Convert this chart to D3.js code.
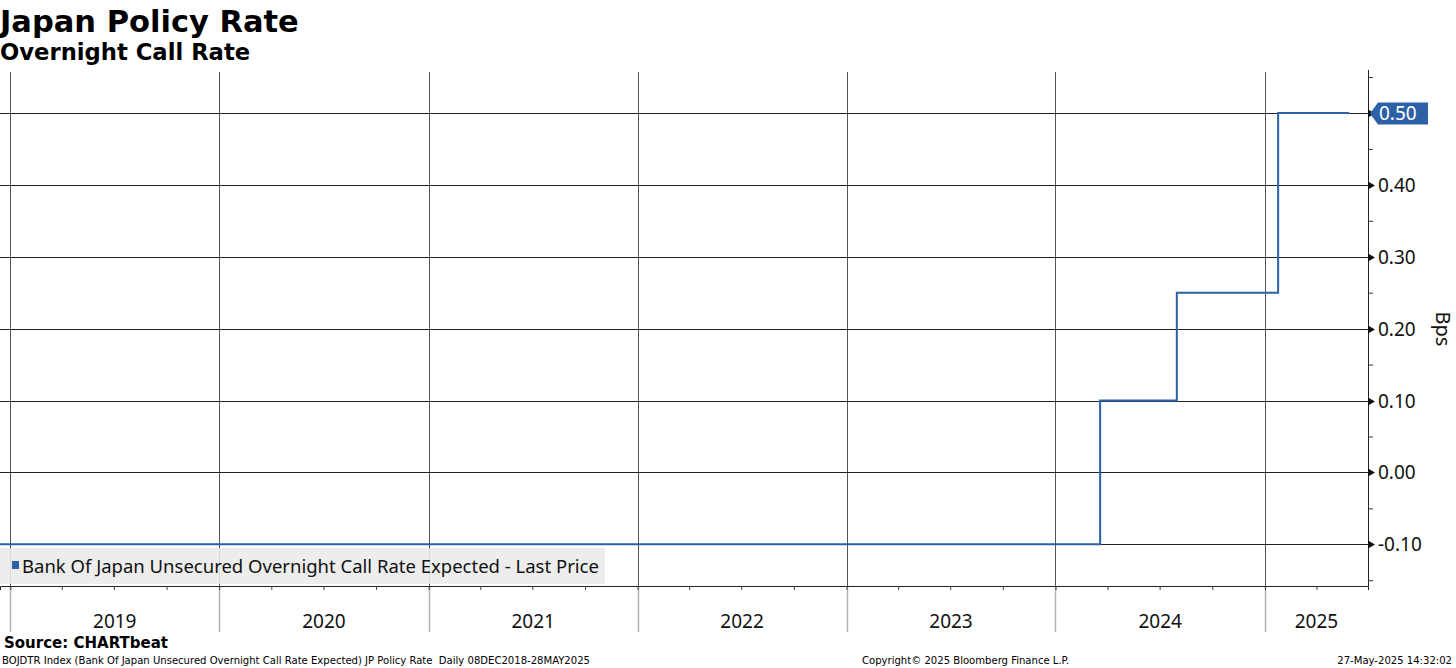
<!DOCTYPE html>
<html>
<head>
<meta charset="utf-8">
<script src="https://cdn.jsdelivr.net/npm/d3@7"></script>
<style>
  body { margin: 0; background: #fff; }
  text { font-family: "Noto Sans", sans-serif; }
</style>
</head>
<body>
<script>
// step changes of the expected overnight call rate
var stepDates  = ["2018-12-08", "2024-03-19", "2024-07-31", "2025-01-24", "2025-05-28"];
var stepValues = [-0.10, 0.10, 0.25, 0.50, 0.50];

var yMajor = [-0.10, 0.00, 0.10, 0.20, 0.30, 0.40, 0.50];
var yMinor = [-0.15, -0.05, 0.05, 0.15, 0.25, 0.35, 0.45, 0.55];
var years  = ["2019", "2020", "2021", "2022", "2023", "2024", "2025"];
var lastLabel = "0.50";

var W = 1456, H = 668;
var plot = {left: 0, right: 1368, top: 72, bottom: 586};
var blue = "#2c62a5";

var parse = d3.timeParse("%Y-%m-%d");
var data = stepDates.map(function(d, i) { return {date: parse(d), value: stepValues[i]}; });

var svg = d3.select("body").append("svg").attr("width", W).attr("height", H);

var x = d3.scaleTime()
    .domain([parse("2018-12-14"), parse("2025-06-30")])
    .range([plot.left, plot.right]);

var y = d3.scaleLinear()
    .domain([-0.158, 0.557])
    .range([plot.bottom, plot.top]);

// title block
svg.append("text").attr("x", 0).attr("y", 32)
    .style("font-family", "DejaVu Sans").style("font-weight", "bold").style("font-size", "30.5px")
    .text("Japan Policy Rate");
svg.append("text").attr("x", 0).attr("y", 60)
    .style("font-family", "DejaVu Sans").style("font-weight", "bold").style("font-size", "22.7px")
    .text("Overnight Call Rate");

// year boundaries
var yearStarts = years.map(function(yr) { return parse(yr + "-01-01"); });
svg.append("g").selectAll("line.below").data(yearStarts).enter().append("line")
    .attr("x1", function(d) { return Math.round(x(d)) + 0.5; })
    .attr("x2", function(d) { return Math.round(x(d)) + 0.5; })
    .attr("y1", plot.bottom).attr("y2", 632)
    .attr("stroke", "#b0b0b0").attr("stroke-width", 1.5);
svg.append("g").selectAll("line.grid").data(yearStarts).enter().append("line")
    .attr("x1", function(d) { return Math.round(x(d)) + 0.5; })
    .attr("x2", function(d) { return Math.round(x(d)) + 0.5; })
    .attr("y1", plot.top).attr("y2", plot.bottom)
    .attr("stroke", "#555").attr("stroke-width", 1);

// horizontal grid
svg.append("g").selectAll("line").data(yMajor).enter().append("line")
    .attr("x1", plot.left).attr("x2", plot.right)
    .attr("y1", function(d) { return Math.round(y(d)) + 0.5; })
    .attr("y2", function(d) { return Math.round(y(d)) + 0.5; })
    .attr("stroke", "#222").attr("stroke-width", 1);

// series
svg.append("clipPath").attr("id", "clip").append("rect")
    .attr("x", plot.left).attr("y", plot.top)
    .attr("width", plot.right - plot.left).attr("height", plot.bottom - plot.top);

var line = d3.line()
    .x(function(d) { return x(d.date); })
    .y(function(d) { return y(d.value); })
    .curve(d3.curveStepAfter);

svg.append("path").datum(data)
    .attr("clip-path", "url(#clip)")
    .attr("d", line)
    .attr("fill", "none")
    .attr("stroke", blue)
    .attr("stroke-width", 2);

// legend
var lg = svg.append("g");
lg.append("rect").attr("x", 0).attr("y", 548).attr("width", 605).attr("height", 36)
    .attr("fill", "#ebebeb").attr("opacity", 0.88);
lg.append("rect").attr("x", 12).attr("y", 561).attr("width", 7).attr("height", 8).attr("fill", blue);
lg.append("text").attr("x", 22).attr("y", 573)
    .style("font-size", "18.5px").attr("fill", "#111")
    .text("Bank Of Japan Unsecured Overnight Call Rate Expected - Last Price");

// x axis
var quarters = d3.timeMonth.every(3).range(x.domain()[0], x.domain()[1]);
var xAxis = svg.append("g").attr("transform", "translate(0," + plot.bottom + ")")
    .call(d3.axisBottom(x).tickValues(quarters).tickSize(4).tickFormat(""));
xAxis.select(".domain").attr("stroke", "#222");
xAxis.selectAll(".tick line").attr("stroke", "#444");

var yearMid = years.map(function(yr) {
  var a = Math.max(x(parse(yr + "-01-01")), plot.left);
  var b = Math.min(x(parse((+yr + 1) + "-01-01")), plot.right);
  return {label: yr, cx: (a + b) / 2};
});
svg.append("g").selectAll("text").data(yearMid).enter().append("text")
    .attr("x", function(d) { return d.cx; }).attr("y", 628)
    .attr("text-anchor", "middle").style("font-size", "19px").attr("fill", "#111")
    .text(function(d) { return d.label; });

// y axis on the right
var yAxis = svg.append("g").attr("transform", "translate(" + plot.right + ",0)")
    .call(d3.axisRight(y).tickValues(yMinor).tickSize(5).tickFormat(""));
yAxis.select(".domain").attr("d", "M0.5," + (plot.top - 2) + "V" + plot.bottom).attr("stroke", "#222");
yAxis.selectAll(".tick line").attr("stroke", "#333");

var yLab = svg.append("g").selectAll("g").data(yMajor).enter().append("g")
    .attr("transform", function(d) { return "translate(" + plot.right + "," + (Math.round(y(d)) + 0.5) + ")"; });
yLab.append("path").attr("d", "M0,-4L7,0L0,4Z").attr("fill", "#111");
yLab.filter(function(d) { return d.toFixed(2) !== lastLabel; }).append("text")
    .attr("x", 10).attr("dy", "0.35em").style("font-size", "19px").attr("fill", "#111")
    .text(function(d) { return d.toFixed(2); });

svg.append("text")
    .attr("transform", "translate(1436," + ((plot.top + plot.bottom) / 2) + ") rotate(90)")
    .attr("text-anchor", "middle").style("font-size", "20px").attr("fill", "#111")
    .text("Bps");

// last value flag
var last = data[data.length - 1];
var ly = Math.round(y(last.value)) + 0.5;
svg.append("path")
    .attr("d", "M" + (plot.right + 2) + "," + ly + "L" + (plot.right + 10) + "," + (ly - 11) +
               "H" + (plot.right + 60) + "V" + (ly + 11) + "H" + (plot.right + 10) + "Z")
    .attr("fill", blue);
svg.append("text").attr("x", plot.right + 11).attr("y", ly).attr("dy", "0.36em")
    .style("font-size", "19px").attr("fill", "#fff").text(lastLabel);

// footer
svg.append("text").attr("x", 4).attr("y", 648)
    .style("font-family", "DejaVu Sans").style("font-weight", "bold").style("font-size", "15px")
    .text("Source: CHARTbeat");
var foot = { family: "DejaVu Sans Condensed", size: "11.2px" };
svg.append("text").attr("x", 2).attr("y", 664)
    .attr("xml:space", "preserve")
    .style("font-family", foot.family).style("font-size", foot.size)
    .text("BOJDTR Index (Bank Of Japan Unsecured Overnight Call Rate Expected) JP Policy Rate  Daily 08DEC2018-28MAY2025");
svg.append("text").attr("x", 862).attr("y", 664)
    .style("font-family", foot.family).style("font-size", foot.size)
    .text("Copyright\u00A9 2025 Bloomberg Finance L.P.");
svg.append("text").attr("x", 1452).attr("y", 664).attr("text-anchor", "end")
    .style("font-family", foot.family).style("font-size", foot.size)
    .text("27-May-2025 14:32:02");
</script>
</body>
</html>
